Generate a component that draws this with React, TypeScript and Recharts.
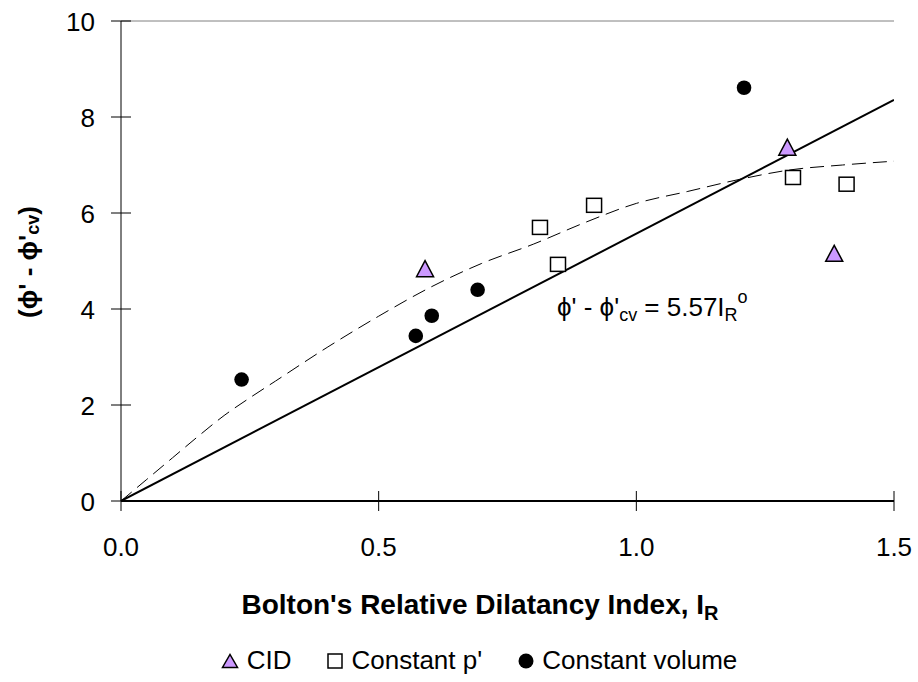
import React from "react";
import {
  ComposedChart,
  Line,
  Scatter,
  XAxis,
  YAxis,
  ReferenceLine,
  ReferenceDot,
} from "recharts";

// CID tests
const cidPoints = [
  { x: 0.59, y: 4.82 },
  { x: 1.293, y: 7.35 },
  { x: 1.384, y: 5.14 },
];

// constant p' tests
const constPPoints = [
  { x: 0.813, y: 5.7 },
  { x: 0.848, y: 4.93 },
  { x: 0.918, y: 6.16 },
  { x: 1.304, y: 6.74 },
  { x: 1.408, y: 6.6 },
];

// constant volume tests
const constVolPoints = [
  { x: 0.234, y: 2.53 },
  { x: 0.572, y: 3.44 },
  { x: 0.603, y: 3.86 },
  { x: 0.692, y: 4.4 },
  { x: 1.209, y: 8.61 },
];

// Bolton fit, 5.57 I_R, end points
const fitLine = [
  { x: 0, y: 0 },
  { x: 1.5, y: 8.355 },
];

// dashed trend
const trendLine = [
  { x: 0, y: 0 },
  { x: 0.05, y: 0.45 },
  { x: 0.1, y: 0.9 },
  { x: 0.15, y: 1.35 },
  { x: 0.2, y: 1.78 },
  { x: 0.25, y: 2.15 },
  { x: 0.3, y: 2.5 },
  { x: 0.4, y: 3.2 },
  { x: 0.5, y: 3.85 },
  { x: 0.6, y: 4.45 },
  { x: 0.7, y: 4.95 },
  { x: 0.8, y: 5.35 },
  { x: 0.9, y: 5.8 },
  { x: 1.0, y: 6.2 },
  { x: 1.1, y: 6.45 },
  { x: 1.2, y: 6.7 },
  { x: 1.3, y: 6.9 },
  { x: 1.4, y: 7.0 },
  { x: 1.5, y: 7.08 },
];

const xTicks = [0, 0.5, 1.0, 1.5];
const yTicks = [0, 2, 4, 6, 8, 10];

const FONT = "'Liberation Sans', Arial, sans-serif";
const PURPLE = "#CC99FF";

const Triangle = ({ cx, cy }: any) => (
  <polygon
    points={`${cx - 8.5},${cy + 7} ${cx + 8.5},${cy + 7} ${cx},${cy - 9}`}
    fill={PURPLE}
    stroke="#000"
    strokeWidth={1.5}
  />
);

const Square = ({ cx, cy }: any) => (
  <rect x={cx - 7.5} y={cy - 7} width={15} height={14} fill="#fff" stroke="#000" strokeWidth={1.5} />
);

const Dot = ({ cx, cy }: any) => <circle cx={cx} cy={cy} r={7.3} fill="#000" />;

const XTick = ({ x, y, payload }: any) => (
  <g>
    <line x1={x} x2={x} y1={y - 10} y2={y + 10} stroke="#000" strokeWidth={1} />
    <text x={x} y={y + 55} textAnchor="middle" fontSize={26} fontFamily={FONT} fill="#000">
      {Number(payload.value).toFixed(1)}
    </text>
  </g>
);

const YTick = ({ x, y, payload }: any) => (
  <g>
    <line x1={x - 10} x2={x + 10} y1={y} y2={y} stroke="#000" strokeWidth={1} />
    <text x={x - 26} y={y + 9.5} textAnchor="end" fontSize={26} fontFamily={FONT} fill="#000">
      {payload.value}
    </text>
  </g>
);

const XTitle = () => (
  <text x={480} y={614} textAnchor="middle" fontSize={28} fontWeight="bold" fontFamily={FONT} fill="#000">
    Bolton's Relative Dilatancy Index, I
    <tspan fontSize={20} dy={6}>R</tspan>
  </text>
);

const YTitle = () => (
  <text
    x={28}
    y={262}
    transform="rotate(-90 28 262)"
    textAnchor="middle"
    dominantBaseline="central"
    fontSize={26}
    fontWeight="bold"
    fontFamily={FONT}
    fill="#000"
  >
    (ϕ' - ϕ'
    <tspan fontSize={18} dy={5}>cv</tspan>
    <tspan dy={-5}>)</tspan>
  </text>
);

const Equation = ({ viewBox }: any) => {
  const x = viewBox.x;
  const y = viewBox.y + 9;
  return (
    <text x={x} y={y} fontSize={26} fontFamily={FONT} fill="#000">
      ϕ' - ϕ'
      <tspan fontSize={18} dy={5}>cv</tspan>
      <tspan dy={-5}> = 5.57I</tspan>
      <tspan fontSize={18} dy={5}>R</tspan>
      <tspan fontSize={18} dy={-18}>o</tspan>
    </text>
  );
};

const LegendRow = () => (
  <div
    style={{
      position: "absolute",
      left: 0,
      top: 645,
      width: 958,
      display: "flex",
      justifyContent: "center",
      alignItems: "center",
      fontFamily: FONT,
      fontSize: 26,
      color: "#000",
      whiteSpace: "nowrap",
    }}
  >
    <svg width={18} height={16} style={{ marginRight: 8 }}>
      <polygon points="1.5,14.5 16.5,14.5 9,1.5" fill={PURPLE} stroke="#000" strokeWidth={1.5} />
    </svg>
    <span style={{ marginRight: 36 }}>CID</span>
    <svg width={16} height={16} style={{ marginRight: 8 }}>
      <rect x={1} y={1} width={14} height={14} fill="#fff" stroke="#000" strokeWidth={1.5} />
    </svg>
    <span style={{ marginRight: 36 }}>Constant p'</span>
    <svg width={16} height={16} style={{ marginRight: 8 }}>
      <circle cx={8} cy={8} r={7.5} fill="#000" />
    </svg>
    <span>Constant volume</span>
  </div>
);

export default function App() {
  return (
    <div style={{ position: "absolute", left: 0, top: 0, width: 918, height: 682, background: "#fff" }}>
      <ComposedChart width={918} height={682} margin={{ top: 21, right: 24, left: 0, bottom: 0 }}>
        <XAxis
          type="number"
          dataKey="x"
          domain={[0, 1.5]}
          ticks={xTicks}
          tick={<XTick />}
          tickSize={0}
          tickMargin={0}
          height={181}
          axisLine={{ stroke: "#000", strokeWidth: 2 }}
          tickLine={false}
          allowDataOverflow
        />
        <YAxis
          type="number"
          dataKey="y"
          domain={[0, 10]}
          ticks={yTicks}
          tick={<YTick />}
          tickSize={0}
          tickMargin={0}
          width={121}
          axisLine={{ stroke: "#000", strokeWidth: 1 }}
          tickLine={false}
          allowDataOverflow
        />
        <ReferenceLine y={10} stroke="#808080" strokeWidth={1} />
        <Line
          data={trendLine}
          dataKey="y"
          type="monotone"
          stroke="#000"
          strokeWidth={1}
          strokeDasharray="14 7"
          dot={false}
          activeDot={false}
          isAnimationActive={false}
        />
        <Line
          data={fitLine}
          dataKey="y"
          type="linear"
          stroke="#000"
          strokeWidth={2}
          dot={false}
          activeDot={false}
          isAnimationActive={false}
        />
        <Scatter data={cidPoints} dataKey="y" shape={<Triangle />} isAnimationActive={false} />
        <Scatter data={constPPoints} dataKey="y" shape={<Square />} isAnimationActive={false} />
        <Scatter data={constVolPoints} dataKey="y" shape={<Dot />} isAnimationActive={false} />
        <ReferenceDot x={0.846} y={4.05} r={0} fill="none" stroke="none" label={<Equation />} />
        <XTitle />
        <YTitle />
      </ComposedChart>
      <LegendRow />
    </div>
  );
}
